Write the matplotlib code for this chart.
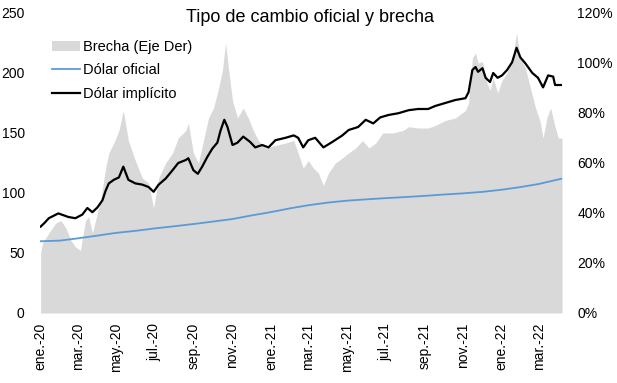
import matplotlib
matplotlib.use("Agg")
import matplotlib.pyplot as plt
from matplotlib.patches import Patch
from matplotlib.lines import Line2D
import pandas as pd

plt.rcParams['font.family'] = ['Liberation Sans', 'DejaVu Sans']

# ---------------- data ----------------
oficial_dates = ["2020-01-02", "2020-02-01", "2020-03-01", "2020-04-01", "2020-05-01", "2020-06-01",
                 "2020-07-01", "2020-08-01", "2020-09-01", "2020-10-01", "2020-11-01", "2020-12-01",
                 "2021-01-01", "2021-02-01", "2021-03-01", "2021-04-01", "2021-05-01", "2021-06-01",
                 "2021-07-01", "2021-08-01", "2021-09-01", "2021-10-01", "2021-11-01", "2021-12-01",
                 "2022-01-01", "2022-02-01", "2022-03-01", "2022-04-07"]
oficial_vals = [59.8, 60.3, 62.2, 64.5, 66.8, 68.5, 70.5, 72.3, 74.2, 76.2, 78.3, 81.3,
                84.1, 87.3, 89.8, 92.0, 93.6, 94.7, 95.7, 96.6, 97.6, 98.7, 99.7, 100.9,
                102.7, 105.0, 107.5, 112.0]

implicito_dates = ["2020-01-02", "2020-01-08", "2020-01-15", "2020-01-30", "2020-02-15", "2020-02-26",
                   "2020-03-08", "2020-03-16", "2020-03-24", "2020-04-01", "2020-04-09", "2020-04-14",
                   "2020-04-19", "2020-04-27", "2020-05-05", "2020-05-12", "2020-05-20", "2020-05-31",
                   "2020-06-11", "2020-06-21", "2020-06-29", "2020-07-07", "2020-07-18", "2020-07-29",
                   "2020-08-07", "2020-08-19", "2020-08-23", "2020-08-31", "2020-09-07", "2020-09-14",
                   "2020-09-22", "2020-09-30", "2020-10-08", "2020-10-13", "2020-10-19", "2020-10-24",
                   "2020-11-01", "2020-11-09", "2020-11-18", "2020-11-29", "2020-12-07", "2020-12-18",
                   "2020-12-28", "2021-01-08", "2021-01-24", "2021-02-06", "2021-02-13", "2021-02-21",
                   "2021-03-01", "2021-03-12", "2021-03-25", "2021-04-08", "2021-04-24", "2021-05-04",
                   "2021-05-19", "2021-05-31", "2021-06-12", "2021-06-23", "2021-07-06", "2021-07-22",
                   "2021-08-07", "2021-08-22", "2021-09-07", "2021-09-18", "2021-10-04", "2021-10-20",
                   "2021-11-05", "2021-11-10", "2021-11-16", "2021-11-21", "2021-11-25", "2021-12-02",
                   "2021-12-07", "2021-12-14", "2021-12-19", "2021-12-26", "2022-01-02", "2022-01-10",
                   "2022-01-18", "2022-01-25", "2022-01-31", "2022-02-08", "2022-02-19", "2022-02-28",
                   "2022-03-08", "2022-03-16", "2022-03-24", "2022-03-27", "2022-04-07"]
implicito_vals = [72, 75, 79, 83, 80, 79,
                  82, 87.5, 84, 88, 94, 102,
                  108, 111, 113, 122, 111, 108,
                  107, 105, 101, 107, 112, 119,
                  125, 127.5, 129, 119, 116, 122,
                  130, 137, 142, 152, 161, 155,
                  140, 142, 147, 142.5, 138, 140,
                  138, 144, 146, 148, 146, 138,
                  144, 146, 138, 142.5, 148, 152.5,
                  155, 161, 158, 163, 165, 166.5,
                  169, 170, 170, 172.5, 175, 177.5,
                  179, 184, 202.5, 205, 201, 204,
                  196, 192.5, 200, 196, 198, 202.5,
                  209, 221, 213, 208, 200, 196,
                  188, 198, 197, 190, 190]

brecha_dates = ["2020-01-02", "2020-01-05", "2020-01-15", "2020-01-26", "2020-02-03", "2020-02-11",
                "2020-02-19", "2020-02-26", "2020-03-05", "2020-03-13", "2020-03-18", "2020-03-24",
                "2020-03-29", "2020-04-06", "2020-04-14", "2020-04-19", "2020-04-27", "2020-05-05",
                "2020-05-12", "2020-05-20", "2020-05-31", "2020-06-11", "2020-06-21", "2020-06-29",
                "2020-07-07", "2020-07-18", "2020-07-29", "2020-08-07", "2020-08-19", "2020-08-23",
                "2020-08-31", "2020-09-08", "2020-09-16", "2020-09-24", "2020-10-02", "2020-10-10",
                "2020-10-16", "2020-10-21", "2020-10-26", "2020-11-01", "2020-11-09", "2020-11-18",
                "2020-11-26", "2020-12-04", "2020-12-12", "2020-12-23", "2021-01-08", "2021-01-24",
                "2021-02-06", "2021-02-13", "2021-02-21", "2021-03-01", "2021-03-09", "2021-03-17",
                "2021-03-25", "2021-04-02", "2021-04-13", "2021-04-24", "2021-05-04", "2021-05-15",
                "2021-05-26", "2021-06-05", "2021-06-16", "2021-06-27", "2021-07-13", "2021-07-29",
                "2021-08-07", "2021-08-22", "2021-09-07", "2021-09-18", "2021-10-04", "2021-10-20",
                "2021-11-05", "2021-11-10", "2021-11-16", "2021-11-21", "2021-11-25", "2021-12-02",
                "2021-12-09", "2021-12-14", "2021-12-19", "2021-12-26", "2022-01-02", "2022-01-10",
                "2022-01-18", "2022-01-25", "2022-01-31", "2022-02-08", "2022-02-16", "2022-02-24",
                "2022-03-03", "2022-03-08", "2022-03-14", "2022-03-20", "2022-03-27", "2022-04-01",
                "2022-04-07"]
brecha_vals = [24, 28, 32, 36, 37, 34,
               29, 26.5, 25, 37, 38.5, 32,
               37, 45, 58, 64, 68, 73,
               81, 69, 61, 54, 52, 42,
               54, 60, 64, 70, 73, 76,
               64, 60, 69, 78, 82, 90,
               97, 108, 97, 85, 78, 82,
               78, 73, 69, 66, 67, 68,
               69, 64, 58, 61, 58, 56,
               51, 56, 60, 62, 64, 66,
               69, 66, 68, 72, 72, 73,
               74.5, 74, 74, 75, 77, 78,
               81, 84, 102, 104, 100, 100.5,
               92, 89, 94, 88, 93, 96,
               101, 112, 102, 98, 90, 82,
               77, 70, 78, 82, 74.5, 70,
               70]

tick_labels = ["ene.-20", "mar.-20", "may.-20", "jul.-20", "sep.-20", "nov.-20", "ene.-21",
               "mar.-21", "may.-21", "jul.-21", "sep.-21", "nov.-21", "ene.-22", "mar.-22"]
tick_dates = ["2020-01-01", "2020-03-01", "2020-05-01", "2020-07-01", "2020-09-01", "2020-11-01",
              "2021-01-01", "2021-03-01", "2021-05-01", "2021-07-01", "2021-09-01", "2021-11-01",
              "2022-01-01", "2022-03-01"]
left_ticks = [0, 50, 100, 150, 200, 250]
right_ticks = [0, 0.2, 0.4, 0.6, 0.8, 1.0, 1.2]
right_tick_labels = ["0%", "20%", "40%", "60%", "80%", "100%", "120%"]

# ---------------- plot ----------------
W, H = 617, 383
fig = plt.figure(figsize=(W / 100, H / 100), dpi=100)
ax = fig.add_axes([40 / W, 1 - 313 / H, (562 - 40) / W, 300 / H])
ax2 = ax.twinx()

GRAY = "#d9d9d9"
BLUE = "#5b9bd5"

bd = pd.to_datetime(brecha_dates)
ax2.fill_between(bd, 0, [v / 100 for v in brecha_vals], color=GRAY, linewidth=0)
ax.plot(pd.to_datetime(oficial_dates), oficial_vals, color=BLUE, lw=1.3)
ax.plot(pd.to_datetime(implicito_dates), implicito_vals, color="black", lw=1.6)

ax.set_zorder(ax2.get_zorder() + 1)
ax.patch.set_visible(False)

ax.set_ylim(0, 250)
ax.set_yticks(left_ticks)
ax2.set_ylim(0, 1.2)
ax2.set_yticks(right_ticks)
ax2.set_yticklabels(right_tick_labels)

ax.set_xlim(pd.Timestamp("2020-01-02"), pd.Timestamp("2022-04-07"))
ax.set_xticks(pd.to_datetime(tick_dates))
ax.set_xticklabels(tick_labels, rotation=90)

for a in (ax, ax2):
    for s in a.spines.values():
        s.set_visible(False)
    a.tick_params(length=0, labelsize=10)
ax.tick_params(axis="y", pad=11)
ax2.tick_params(axis="y", pad=11)
ax.tick_params(axis="x", pad=7)

fig.text(0.5 + 2 / W, 1 - 18 / H, "Tipo de cambio oficial y brecha", ha="center", va="center",
         fontsize=13)

handles = [Patch(facecolor=GRAY, edgecolor="none"),
           Line2D([], [], color=BLUE, lw=1.3),
           Line2D([], [], color="black", lw=1.6)]
labels = ["Brecha (Eje Der)", "Dólar oficial", "Dólar implícito"]
ax.legend(handles, labels, loc="upper left", bbox_to_anchor=(39 / W, 1 - 27 / H),
          bbox_transform=fig.transFigure, frameon=False, fontsize=10.5,
          handlelength=1.9, handletextpad=0.25, labelspacing=0.64)

fig.savefig("out.png", dpi=100)
